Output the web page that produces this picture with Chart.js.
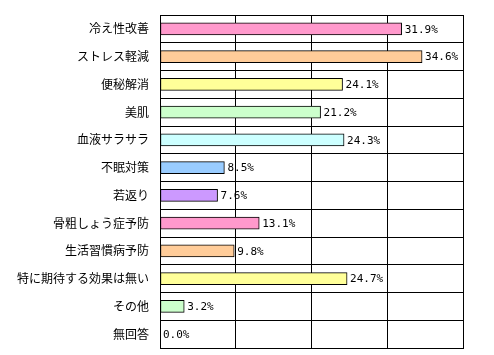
<!DOCTYPE html>
<html><head><meta charset="utf-8">
<script src="https://cdn.jsdelivr.net/npm/chart.js@4"></script>
<style>html,body{margin:0;padding:0;background:#fff;}#wrap{width:494px;height:355px;}</style>
</head><body><div id="wrap"><canvas id="c" width="494" height="355"></canvas></div>
<script>
const categories = ["冷え性改善","ストレス軽減","便秘解消","美肌","血液サラサラ","不眠対策","若返り","骨粗しょう症予防","生活習慣病予防","特に期待する効果は無い","その他","無回答"];
const values = [31.9, 34.6, 24.1, 21.2, 24.3, 8.5, 7.6, 13.1, 9.8, 24.7, 3.2, 0.0];
const barColors = ["#FF99CC","#FFCC99","#FFFF99","#CCFFCC","#CCFFFF","#99CCFF","#CC99FF","#FF99CC","#FFCC99","#FFFF99","#CCFFCC","#CCFFCC"];
const xTicks = [0, 10, 20, 30, 40];

const valueLabels = {
  id: 'valueLabels',
  afterDatasetsDraw(chart) {
    const ctx = chart.ctx;
    const meta = chart.getDatasetMeta(0);
    ctx.save();
    ctx.font = '11px "DejaVu Sans Mono"';
    ctx.fillStyle = '#000';
    ctx.textAlign = 'left';
    ctx.textBaseline = 'middle';
    meta.data.forEach((el, i) => {
      ctx.fillText(values[i].toFixed(1) + '%', el.x + 3, el.y + 1);
    });
    ctx.restore();
  }
};

new Chart(document.getElementById('c'), {
  type: 'bar',
  data: {
    labels: categories,
    datasets: [{
      data: values,
      backgroundColor: barColors,
      borderColor: '#000',
      borderWidth: 1,
      borderSkipped: false,
      barThickness: 12
    }]
  },
  options: {
    indexAxis: 'y',
    responsive: false,
    animation: false,
    layout: { padding: { left: 0, right: 31, top: 15, bottom: 7 } },
    plugins: { legend: { display: false }, tooltip: { enabled: false } },
    scales: {
      x: {
        min: 0, max: 40,
        afterBuildTicks(scale) { scale.ticks = xTicks.map(v => ({ value: v })); },
        ticks: { display: false, padding: 0 },
        grid: { color: '#000', lineWidth: 1, drawTicks: false },
        border: { color: '#000', width: 1 },
        afterFit(scale) { scale.height = 0; scale.paddingLeft = 0; scale.paddingRight = 0; }
      },
      y: {
        ticks: { color: '#000', font: { family: '"Noto Sans CJK JP"', size: 12 }, padding: 11 },
        grid: { color: '#000', lineWidth: 1, drawTicks: false, offset: true },
        border: { color: '#000', width: 1 },
        afterFit(scale) { scale.width = 160; scale.paddingTop = 0; scale.paddingBottom = 0; }
      }
    }
  },
  plugins: [valueLabels]
});
</script>
</body></html>
